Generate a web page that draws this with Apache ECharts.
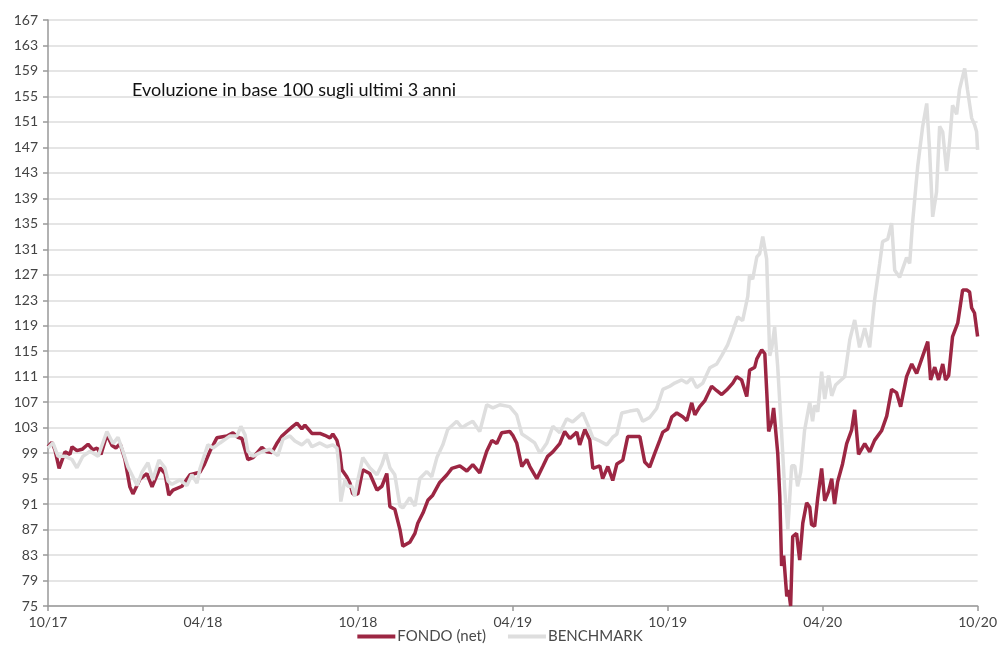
<!DOCTYPE html>
<html>
<head>
<meta charset="utf-8">
<script src="https://cdn.jsdelivr.net/npm/echarts@6/dist/echarts.min.js"></script>
<style>
html,body{margin:0;padding:0;background:#fff;}
#c{width:1000px;height:648px;}
</style>
</head>
<body>
<div id="c"></div>
<script>
// x = months since Oct 2017
const xTickLabels = ['10/17','04/18','10/18','04/19','10/19','04/20','10/20'];
const yTicks = [75,79,83,87,91,95,99,103,107,111,115,119,123,127,131,135,139,143,147,151,155,159,163,167];

const fondoMonths = [0.00,0.15,0.27,0.43,0.66,0.85,0.93,1.12,1.32,1.55,1.74,1.90,2.05,2.28,2.48,2.63,2.79,2.98,3.17,3.29,3.56,3.83,4.03,4.34,4.53,4.68,4.84,5.19,5.50,5.88,6.04,6.27,6.54,6.93,7.16,7.35,7.51,7.74,7.94,8.28,8.48,8.67,8.86,9.06,9.25,9.48,9.64,9.83,9.95,10.22,10.53,10.72,10.92,11.03,11.19,11.30,11.38,11.57,11.69,11.80,12.00,12.19,12.46,12.74,12.93,13.12,13.24,13.43,13.63,13.74,14.01,14.21,14.32,14.52,14.71,14.90,15.17,15.45,15.64,15.95,16.22,16.45,16.72,16.99,17.19,17.38,17.57,17.88,18.00,18.15,18.35,18.54,18.66,18.93,19.16,19.35,19.55,19.82,20.01,20.21,20.48,20.59,20.79,20.98,21.10,21.37,21.48,21.68,21.87,22.03,22.26,22.45,22.72,22.92,23.11,23.30,23.50,23.69,23.81,24.00,24.16,24.35,24.58,24.74,24.93,25.05,25.24,25.43,25.70,25.90,26.09,26.28,26.52,26.67,26.86,27.06,27.17,27.37,27.45,27.64,27.76,27.83,27.91,28.03,28.10,28.26,28.34,28.41,28.49,28.61,28.68,28.76,28.84,28.99,29.11,29.23,29.38,29.50,29.57,29.69,29.81,29.96,30.08,30.23,30.35,30.46,30.58,30.77,30.93,31.12,31.24,31.39,31.63,31.82,32.01,32.28,32.48,32.67,32.86,33.02,33.25,33.45,33.64,33.87,34.07,34.18,34.34,34.49,34.65,34.76,34.88,35.03,35.23,35.42,35.58,35.69,35.77,35.88,36.00];
const fondoValues = [100,100.7,99.5,96.6,99.2,98.8,100,99.4,99.6,100.4,99.5,99.8,98.8,101.9,100.2,99.8,100.5,98,93.7,92.6,94.9,95.8,93.7,96.7,95.8,92.4,93.2,93.8,95.6,96,97.1,99.3,101.4,101.7,102.2,101.5,101.3,98,98.3,99.9,99.2,99.1,100.5,101.7,102.4,103.2,103.7,102.8,103.4,102.1,102.1,101.8,101.4,102,101,99.1,96.4,95.3,94.3,92.6,92.6,96.4,95.8,93.2,93.8,95.8,90.6,90.2,87,84.4,85,86.4,88,89.6,91.6,92.4,94.4,95.6,96.6,97,96.2,97.2,95.9,99.3,101,100.5,102.2,102.4,101.8,100.6,96.9,98,96.9,95,96.9,98.5,99.2,100.5,102.4,101.3,102.3,100.3,102.7,101.1,96.6,97,95,96.9,94.7,97.3,97.9,101.6,101.6,101.6,97.6,96.8,99,101,102.3,102.8,104.7,105.3,104.7,104.1,106.9,105,106.3,107.2,109.5,108.8,108.2,108.9,110,111,110.5,107.9,112,112.5,113.8,115.2,114.6,109,102.4,104,106.1,99,92.2,81.3,82.9,76.5,77.5,75,85.9,86.4,82.2,88,91.2,90.5,87.8,87.5,92,96.6,91.5,93,95,91,94.5,97.3,100.5,102.6,105.8,98.8,100.5,99.2,101,102.5,104.8,109,108.5,106.3,111,113,111.5,114.2,116.5,110.5,112.5,110.5,113,110.5,111.2,117.3,119.4,124.6,124.6,124.3,121.8,121,117.3];

const benchMonths = [0.00,0.19,0.39,0.66,0.93,1.12,1.35,1.63,1.94,2.28,2.52,2.71,2.90,3.10,3.25,3.45,3.64,3.87,4.06,4.30,4.53,4.65,4.80,5.11,5.38,5.57,5.77,5.88,6.19,6.39,6.66,7.05,7.32,7.47,7.63,7.74,7.94,8.32,8.59,8.90,9.10,9.37,9.56,9.83,10.06,10.22,10.53,10.80,11.03,11.19,11.26,11.34,11.50,11.61,11.77,11.88,12.00,12.19,12.46,12.74,12.93,13.08,13.24,13.43,13.63,13.74,14.01,14.21,14.40,14.67,14.86,15.06,15.29,15.48,15.83,16.03,16.22,16.45,16.72,16.99,17.23,17.50,17.88,18.15,18.35,18.54,18.85,19.05,19.32,19.55,19.82,20.09,20.32,20.71,20.90,21.10,21.37,21.64,21.87,22.03,22.22,22.53,22.84,23.03,23.30,23.57,23.81,24.08,24.27,24.54,24.74,24.93,25.12,25.36,25.63,25.90,26.09,26.32,26.52,26.71,26.90,27.10,27.17,27.29,27.45,27.56,27.68,27.83,27.95,28.03,28.14,28.26,28.41,28.53,28.65,28.80,28.92,29.03,29.15,29.30,29.50,29.61,29.69,29.81,29.96,30.08,30.23,30.35,30.50,30.85,31.05,31.24,31.43,31.63,31.82,32.01,32.21,32.32,32.52,32.67,32.79,32.98,33.25,33.37,33.48,33.68,33.87,34.03,34.14,34.26,34.41,34.53,34.65,34.80,34.92,35.03,35.19,35.30,35.50,35.61,35.77,35.88,35.96,36.00];
const benchValues = [99.8,100.6,98.5,98.5,98,96.7,98.5,99.3,98.5,102.4,100.5,101.5,99.3,96.8,95.6,93.9,96,97.5,94.8,97.9,96.7,94.6,94.1,94.8,93.9,95.6,94.3,96.5,100.3,99.8,100.6,101.7,101.7,103.2,101.9,99.3,98.5,99.3,99.6,98.6,101.2,101.7,100.9,100.3,101.1,100,100.6,100,100.3,99.8,97.2,91.4,94.8,93.8,93.8,92.2,94.8,98.3,96.7,95.6,97.2,99.1,96.7,95.6,90.7,90.4,92,90.7,95,96.1,95.3,98.3,100.3,102.7,104,103,103.5,104,102.4,106.6,106.1,106.6,106.3,105,102,101.5,100.6,99,100.6,103.2,102.2,104.4,103.9,105.3,103.5,101.4,100.9,100.3,101.5,102,105.3,105.6,105.8,104,104.6,106,109,109.5,110,110.5,110,110.8,109.3,110,112.4,113,114.3,116,118.2,120.4,119.8,123.6,127,126.3,129.8,130.3,133,129.5,114.3,115.5,118.8,112.5,102.1,93.3,87,97,97,93.8,96,102.6,107,104,106.5,105.5,111.8,107.5,111.2,108,109.7,111,116.8,119.9,115.6,118.6,115.6,123,128.8,132.2,132.6,135.1,127.7,126.6,129.7,128.8,135.1,144,150.2,153.9,146.6,136.1,140,150.3,149.4,143.3,148,153.6,152.2,156.1,159.4,156,151.6,150.6,149.5,146.6];

const seriesNames = ['FONDO (net)','BENCHMARK'];
const titleText = 'Evoluzione in base 100 sugli ultimi 3 anni';

function pairs(xs, ys){ return xs.map((x,i)=>[x, ys[i]]); }

const FONT = 'Lato, "Noto Sans", sans-serif';
const chart = echarts.init(document.getElementById('c'), null, {renderer:'canvas'});
chart.setOption({
  animation:false,
  backgroundColor:'#ffffff',
  textStyle:{fontFamily:FONT},
  title:{
    text:titleText, left:127, top:76,
    textStyle:{fontFamily:FONT, fontSize:18, fontWeight:'normal', color:'#111'}
  },
  legend:{
    top:627, left:'center', padding:[2,5,2,5],
    itemWidth:38, itemHeight:4, itemGap:22,
    icon:'rect',
    textStyle:{fontFamily:FONT, fontSize:15, color:'#4a4a4a', padding:[0,0,0,-3]},
    data:seriesNames
  },
  grid:{left:48, right:21, top:20, bottom:42, containLabel:false},
  xAxis:{
    type:'value', min:0, max:36, interval:6,
    axisLine:{show:true, lineStyle:{color:'#999', width:1.5}},
    axisTick:{show:true, length:5, lineStyle:{color:'#999', width:1.5}},
    axisLabel:{fontFamily:FONT, fontSize:14, color:'#444', margin:9,
      formatter:(v)=>xTickLabels[Math.round(v/6)] || ''},
    splitLine:{show:false}
  },
  yAxis:{
    type:'value', min:75, max:167,
    axisLine:{show:true, lineStyle:{color:'#999', width:1.5}},
    axisTick:{show:true, length:5, customValues:yTicks, lineStyle:{color:'#999', width:1.5}},
    axisLabel:{fontFamily:FONT, fontSize:14, color:'#444', margin:10, customValues:yTicks},
    splitLine:{show:true, lineStyle:{color:'#dcdcdc', width:1.5}}
  },
  series:[
    {name:seriesNames[0], type:'line', data:pairs(fondoMonths, fondoValues),
     showSymbol:false, symbol:'none', lineStyle:{color:'#9c2643', width:3.5},
     itemStyle:{color:'#9c2643'}, z:2},
    {name:seriesNames[1], type:'line', data:pairs(benchMonths, benchValues),
     showSymbol:false, symbol:'none', lineStyle:{color:'#dedede', width:3.5},
     itemStyle:{color:'#dedede'}, z:3}
  ]
});
</script>
</body>
</html>
